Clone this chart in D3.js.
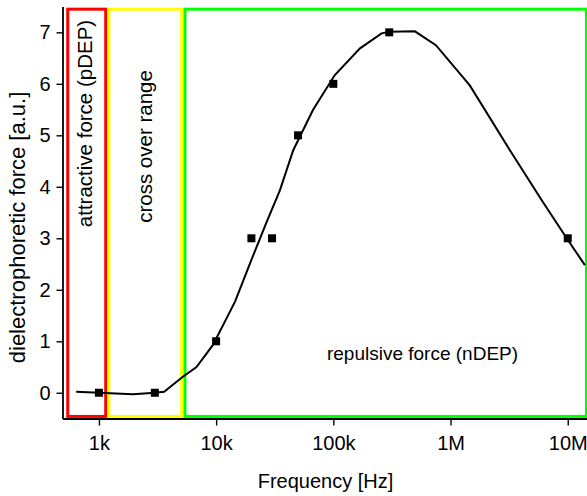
<!DOCTYPE html>
<html>
<head>
<meta charset="utf-8">
<script src="https://cdn.jsdelivr.net/npm/d3@7"></script>
<style>
  body { margin: 0; background: #fff; }
  text { font-family: "Liberation Sans", Arial, sans-serif; fill: #000; }
</style>
</head>
<body>
<div id="chart"></div>
<script>
// measured points (squares)
var measFreq = [1000, 3000, 10000, 20000, 30000, 50000, 100000, 300000, 10000000];
var measForce = [0, 0, 1, 3, 3, 5, 6, 7, 3];

// fitted curve
var fitFreq = [640, 1000, 1950, 3000, 3600, 5200, 6800, 9400, 14500, 20000, 27000, 35000,
    45500, 67000, 103000, 169000, 258000, 304000, 497000, 750000, 1460000, 3210000,
    6000000, 9800000, 14000000];
var fitForce = [0.02, 0.0, -0.03, 0.0, 0.02, 0.31, 0.5, 0.93, 1.77, 2.58, 3.32, 3.93,
    4.71, 5.49, 6.17, 6.69, 6.98, 7.01, 7.02, 6.75, 5.97, 4.71, 3.74, 3.0, 2.48];

// frequency regions
var regionNames = ['attractive force (pDEP)', 'cross over range', 'repulsive force (nDEP)'];
var regionFrom = [542, 1217, 5420];
var regionTo = [1143, 5080, 14450000];
var regionTop = 7.45, regionBottom = -0.46;
var regionColors = ['#ff0000', '#ffff00', '#00ff00'];

// axis ticks
var xTickValues = [1000, 10000, 100000, 1000000, 10000000];
var xTickLabels = ['1k', '10k', '100k', '1M', '10M'];
var yTickValues = [0, 1, 2, 3, 4, 5, 6, 7];
var yMinorValues = [-0.5, 0.5, 1.5, 2.5, 3.5, 4.5, 5.5, 6.5, 7.5];

var width = 587, height = 496;

var svg = d3.select('#chart').append('svg')
    .attr('width', width)
    .attr('height', height);

var x = d3.scaleLog().domain([489, 14.6e6]).range([62.5, 587]);
var y = d3.scaleLinear().domain([-0.5, 7.5]).range([418.5, 6.6]);

// region boxes
for (var i = 0; i < regionFrom.length; i++) {
    svg.append('rect')
        .attr('x', x(regionFrom[i]))
        .attr('y', y(regionTop))
        .attr('width', x(regionTo[i]) - x(regionFrom[i]))
        .attr('height', y(regionBottom) - y(regionTop))
        .style('fill', 'none')
        .style('stroke', regionColors[i])
        .style('stroke-width', 3);
}

// region labels
svg.append('text')
    .attr('transform', 'translate(' + (x(regionTo[0]) - 14) + ',' + 123.5 + ') rotate(-90)')
    .attr('text-anchor', 'middle')
    .style('font-size', '20.5px')
    .text(regionNames[0]);

svg.append('text')
    .attr('transform', 'translate(' + (x(regionFrom[1]) + 43) + ',' + 146.5 + ') rotate(-90)')
    .attr('text-anchor', 'middle')
    .style('font-size', '20.5px')
    .text(regionNames[1]);

svg.append('text')
    .attr('x', 422.5)
    .attr('y', 360)
    .attr('text-anchor', 'middle')
    .style('font-size', '19px')
    .text(regionNames[2]);

// axes
var xMinor = x.ticks().filter(function(d) { return xTickValues.indexOf(d) < 0; });

var gx = svg.append('g').attr('transform', 'translate(0,' + y(-0.5) + ')');
gx.call(d3.axisBottom(x).tickValues(xMinor).tickSize(4).tickFormat(''));
gx.call(d3.axisBottom(x).tickValues(xTickValues).tickSizeInner(7).tickSizeOuter(0)
    .tickPadding(10)
    .tickFormat(function(d, i) { return xTickLabels[i]; }));

var gy = svg.append('g').attr('transform', 'translate(' + x(489) + ',0)');
gy.call(d3.axisLeft(y).tickValues(yMinorValues).tickSize(3.5).tickFormat(''));
gy.call(d3.axisLeft(y).tickValues(yTickValues).tickSizeInner(6).tickSizeOuter(0)
    .tickPadding(6)
    .tickFormat(d3.format('d')));

svg.selectAll('.domain').style('stroke', '#000').style('stroke-width', 1.8);
svg.selectAll('.tick line').style('stroke', '#000').style('stroke-width', 1.4);
svg.selectAll('.tick text')
    .style('font-family', '"Liberation Sans", Arial, sans-serif')
    .style('font-size', '20px')
    .style('fill', '#000');

// axis titles
svg.append('text')
    .attr('x', 325.5)
    .attr('y', 488)
    .attr('text-anchor', 'middle')
    .style('font-size', '20px')
    .text('Frequency [Hz]');

svg.append('text')
    .attr('transform', 'translate(25,' + 227.5 + ') rotate(-90)')
    .attr('text-anchor', 'middle')
    .style('font-size', '22px')
    .text('dielectrophoretic force [a.u.]');

// fitted curve
var line = d3.line()
    .x(function(d) { return x(d[0]); })
    .y(function(d) { return y(d[1]); });

svg.append('path')
    .datum(d3.zip(fitFreq, fitForce))
    .attr('d', line)
    .style('fill', 'none')
    .style('stroke', '#000')
    .style('stroke-width', 2);

// measured squares
svg.selectAll('.pt')
    .data(d3.zip(measFreq, measForce))
    .enter().append('rect')
    .attr('class', 'pt')
    .attr('x', function(d) { return x(d[0]) - 4; })
    .attr('y', function(d) { return y(d[1]) - 4; })
    .attr('width', 8)
    .attr('height', 8)
    .style('fill', '#000');
</script>
</body>
</html>
